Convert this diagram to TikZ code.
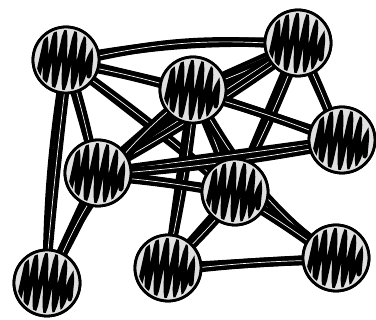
\documentclass[tikz,border=0pt]{standalone}
\tikzset{
  vert/.style={circle, draw, line width=2.8pt, fill=black!12, minimum size=66pt, inner sep=0pt},
  edge/.style={line width=4.4pt, double=white, double distance=0.7pt},
  scrib/.style={line width=5pt, rounded corners=3pt, line cap=round}
}
\begin{document}
\begin{tikzpicture}[x=1pt,y=-1pt]
\useasboundingbox (0,0) rectangle (376,320);

\node[vert] (a) at (66,60) {};
\node[vert] (b) at (298,43) {};
\node[vert] (c) at (193,90) {};
\node[vert] (d) at (342,140) {};
\node[vert] (e) at (98,173) {};
\node[vert] (f) at (235,192) {};
\node[vert] (g) at (168,268) {};
\node[vert] (h) at (336,258) {};
\node[vert] (i) at (47,283) {};

% edges, each one drawn twice for the sketchy look
\foreach \u/\v/\b in {a/b/6,a/c/0,a/e/0,a/i/-4,a/f/0,b/c/0,b/d/0,b/f/0,b/e/0,
                      c/d/0,c/e/0,c/f/0,c/g/0,c/h/-14,d/e/0,e/f/0,e/i/0,
                      f/g/0,f/h/0,g/h/0,i/c/12}{
  \draw[edge] (\u.center) to[bend left=\b] (\v.center);
  \draw[edge] ([shift={(2,3)}]\u.center) to[bend left=\b+3] ([shift={(-2,2)}]\v.center);
}

% nodes again on top, with their scribbles
\foreach \n in {a,b,c,d,e,f,g,h,i}{
  \node[vert] at (\n) {};
  \begin{scope}[shift={(\n)}]
    \clip (0,0) circle (30);
    \draw[scrib] (-28,16) -- (-20,-20) -- (-21,22) -- (-11,-25) -- (-12,25)
      -- (-1,-26) -- (-2,26) -- (9,-24) -- (7,25) -- (18,-18) -- (15,22)
      -- (25,-6) -- (23,16);
  \end{scope}
}
\end{tikzpicture}
\end{document}
